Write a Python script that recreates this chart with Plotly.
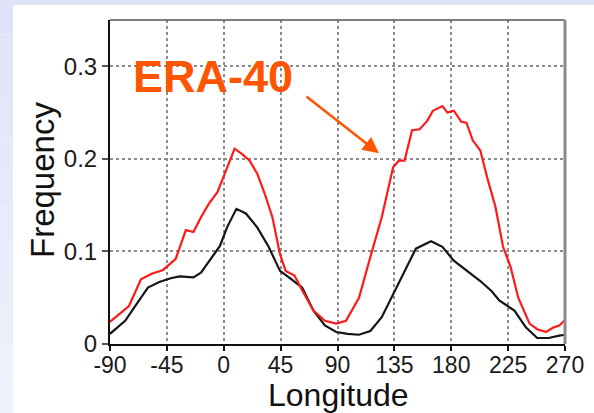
import plotly.graph_objects as go

# ---- data ----
era_lon = [-90, -81, -75, -65.5, -57, -48, -38, -30, -24, -18, -12, -5, 2.6, 8.6, 14.6, 20.5,
           26.5, 32.5, 38.5, 44.5, 49, 56, 62, 71, 80, 89, 96.7, 107, 116, 125, 134, 138.5,
           143, 149, 155, 161, 165.5, 173, 177, 182, 188, 192, 197, 203, 209, 215, 221, 227,
           233, 242, 248, 255, 261, 265.5, 270]
era_freq = [0.024, 0.034, 0.041, 0.070, 0.076, 0.080, 0.092, 0.123, 0.121, 0.137, 0.151, 0.164,
            0.191, 0.211, 0.205, 0.198, 0.184, 0.162, 0.137, 0.097, 0.079, 0.074, 0.058, 0.036,
            0.025, 0.022, 0.025, 0.050, 0.094, 0.137, 0.191, 0.198, 0.198, 0.231, 0.232, 0.241,
            0.252, 0.257, 0.250, 0.252, 0.240, 0.239, 0.220, 0.209, 0.177, 0.148, 0.105, 0.083,
            0.050, 0.022, 0.016, 0.013, 0.018, 0.020, 0.026]

mod_lon = [-90, -78, -69, -60, -51, -42, -35, -24, -18, -11, -3, 2.6, 10, 17.5, 26.5, 35.5,
           44.5, 53.4, 62, 71, 80, 89, 98, 107, 116, 125, 134, 143, 152, 164, 173, 182, 194,
           203, 212, 218, 230, 239, 248, 257, 265.5, 270]
mod_freq = [0.011, 0.025, 0.043, 0.061, 0.067, 0.071, 0.073, 0.072, 0.077, 0.090, 0.106, 0.126,
            0.146, 0.141, 0.126, 0.105, 0.079, 0.070, 0.061, 0.036, 0.020, 0.013, 0.011, 0.010,
            0.014, 0.029, 0.054, 0.079, 0.103, 0.111, 0.105, 0.090, 0.077, 0.068, 0.057, 0.047,
            0.036, 0.018, 0.0065, 0.0065, 0.009, 0.010]

x_ticks = [-90, -45, 0, 45, 90, 135, 180, 225, 270]
y_ticks = [0, 0.1, 0.2, 0.3]
y_tick_text = ["0", "0.1", "0.2", "0.3"]
x_title = "Longitude"
y_title = "Frequency"
label = "ERA-40"

FONT = "Liberation Sans, Arial, Helvetica, sans-serif"
W, H = 594, 413
L, R, T, B = 110, 29, 20, 69
PW, PH = W - L - R, H - T - B


def px_x(p):
    return (p - L) / PW


def px_y(p):
    return (H - B - p) / PH


fig = go.Figure()
fig.add_trace(go.Scatter(x=mod_lon, y=mod_freq, mode="lines",
                         line=dict(color="#151515", width=2.2), showlegend=False))
fig.add_trace(go.Scatter(x=era_lon, y=era_freq, mode="lines",
                         line=dict(color="#ff1a1a", width=2.2), showlegend=False))

shapes = []
# top lavender strip
shapes.append(dict(type="rect", xref="paper", yref="paper", x0=px_x(0), x1=px_x(W),
                   y0=px_y(5), y1=px_y(0), fillcolor="#dfe3f7", line_width=0, layer="below"))
# left gradient strip
n = 12
top_c = (0xdf, 0xe3, 0xf7)
bot_c = (0xef, 0xf1, 0xfb)
for i in range(n):
    f = i / (n - 1)
    c = tuple(int(round(top_c[k] + (bot_c[k] - top_c[k]) * f)) for k in range(3))
    shapes.append(dict(type="rect", xref="paper", yref="paper", x0=px_x(0), x1=px_x(13),
                       y0=px_y(H * (i + 1) / n), y1=px_y(H * i / n),
                       fillcolor="rgb(%d,%d,%d)" % c, line_width=0, layer="below"))
# top frame line and right frame line
shapes.append(dict(type="line", xref="paper", yref="paper", x0=0, x1=1, y0=1, y1=1,
                   line=dict(color="#555555", width=1.5)))
shapes.append(dict(type="line", xref="paper", yref="paper", x0=1, x1=1, y0=0, y1=1,
                   line=dict(color="#8a8a8a", width=3)))

fig.update_layout(
    width=W, height=H,
    margin=dict(l=L, r=R, t=T, b=B, pad=0, autoexpand=False),
    paper_bgcolor="white", plot_bgcolor="white",
    font=dict(family=FONT, color="#1a1a1a"),
    shapes=shapes,
    xaxis=dict(range=[-90, 270], tickvals=x_ticks, ticktext=[str(v) for v in x_ticks],
               automargin=False,
               showgrid=True, gridcolor="#8c8c8c", griddash="dot", gridwidth=1.5,
               showline=True, linecolor="#111111", linewidth=2,
               ticks="outside", ticklen=5, tickcolor="#111111", tickwidth=1.5,
               ticklabelstandoff=-6,
               tickfont=dict(size=23, color="#1a1a1a"), zeroline=False),
    yaxis=dict(range=[0, 0.35], tickvals=y_ticks, ticktext=y_tick_text,
               automargin=False,
               showgrid=True, gridcolor="#8c8c8c", griddash="dot", gridwidth=1.5,
               showline=True, linecolor="#111111", linewidth=2,
               ticks="outside", ticklen=6, tickcolor="#555555", tickwidth=1.5,
               tickfont=dict(size=24, color="#1a1a1a"), zeroline=False),
)

# axis titles
fig.add_annotation(xref="paper", yref="paper", x=px_x(338), y=px_y(395),
                   text=x_title, showarrow=False, xanchor="center", yanchor="middle",
                   font=dict(family=FONT, size=32, color="#111111"))
fig.add_annotation(xref="paper", yref="paper", x=px_x(42), y=px_y(180),
                   text=y_title, showarrow=False, xanchor="center", yanchor="middle",
                   textangle=-90, font=dict(family=FONT, size=33, color="#111111"))

fig.add_annotation(xref="paper", yref="paper", x=px_x(213), y=px_y(76),
                   text="<b>" + label + "</b>", showarrow=False, xanchor="center", yanchor="middle",
                   font=dict(family=FONT, size=45, color="#ff5500"))
fig.add_annotation(x=122.8, y=0.206, xref="x", yref="y", text="", showarrow=True,
                   axref="pixel", ayref="pixel", ax=-74, ay=-58,
                   arrowhead=2, arrowsize=1.3, arrowwidth=2.5, arrowcolor="#ff5500")

fig.write_html("out.html", config={"displayModeBar": False},
               post_script="document.body.style.margin='0';document.body.style.overflow='hidden';")
